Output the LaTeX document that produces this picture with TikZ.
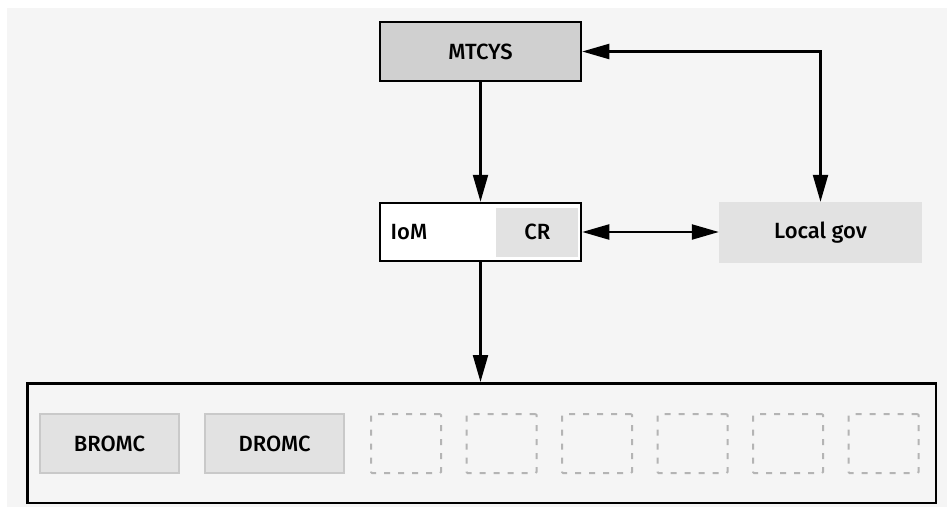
\documentclass[tikz,border=0pt]{standalone}
\usepackage{fontspec}
\setmainfont{Fira Sans Medium}
\usepackage{tikz}
\usetikzlibrary{positioning, arrows.meta}
\definecolor{bggray}{HTML}{F5F5F5}
\definecolor{topgray}{HTML}{D0D0D0}
\definecolor{boxgray}{HTML}{E2E2E2}
\definecolor{edgegray}{HTML}{C9C9C9}
\definecolor{slotgray}{HTML}{B4B4B4}
\tikzstyle{ministry} = [rectangle, minimum width=201pt, minimum height=59pt, text centered, draw=black, line width=2.5pt, fill=topgray, font=\fontsize{22}{26}\selectfont]
\tikzstyle{institute} = [rectangle, minimum width=201pt, minimum height=58pt, draw=black, line width=2.5pt, fill=white]
\tikzstyle{council} = [rectangle, minimum width=82pt, minimum height=49pt, text centered, fill=boxgray, font=\fontsize{22}{26}\selectfont]
\tikzstyle{localbox} = [rectangle, minimum width=203pt, minimum height=61pt, text centered, fill=boxgray, font=\fontsize{22}{26}\selectfont]
\tikzstyle{pool} = [rectangle, minimum width=908.5pt, minimum height=119.5pt, draw=black, line width=2.5pt, fill=bggray]
\tikzstyle{unit} = [rectangle, minimum width=139pt, minimum height=59pt, text centered, draw=edgegray, line width=2pt, fill=boxgray, font=\fontsize{22}{26}\selectfont]
\tikzstyle{slot} = [rectangle, rounded corners=1pt, minimum width=70pt, minimum height=59pt, draw=slotgray, line width=2pt, dash pattern=on 6pt off 8pt]
\tikzstyle{arrow} = [line width=2.2pt, -{Triangle[length=27pt, width=15pt]}]
\tikzstyle{biarrow} = [line width=2.2pt, {Triangle[length=27pt, width=15pt]}-{Triangle[length=27pt, width=15pt]}]

\begin{document}
\begin{tikzpicture}[x=1pt, y=-1pt, node distance=180pt]
\fill [bggray] (7,8) rectangle (947,507);
\useasboundingbox (0,0) rectangle (947,516);

\node (mtcys) [ministry] at (480.5,51.5) {MTCYS};
\node (iom) [institute, below of=mtcys, yshift=-0.5pt] {};
\node (cr) [council, anchor=east] at ([xshift=-3.75pt]iom.east) {CR};
\node (iomlabel) [anchor=west, inner sep=0pt, font=\fontsize{22}{26}\selectfont] at ([xshift=11.75pt]iom.west) {IoM};
\draw [arrow] (mtcys) -- (iom);

\node (localgov) [localbox, right of=iom, xshift=160pt, yshift=-0.5pt] {Local gov};
\draw [biarrow] (iom) -- (iom -| localgov.west);
\draw [biarrow] (mtcys.east) -| (localgov.north);

\node (pool) [pool, below of=iom, yshift=-31pt, xshift=1pt] {};
\draw [arrow] (iom.south) -- (iom.south |- pool.north);

\node (bromc) [unit, right=13pt of pool.west, yshift=-0.5pt] {BROMC};
\node (dromc) [unit, right=24pt of bromc] {DROMC};
\foreach \i in {0,...,5}
  \node (slot\i) [slot] at ({406+95.5*\i}, 443.5) {};
\end{tikzpicture}
\end{document}
